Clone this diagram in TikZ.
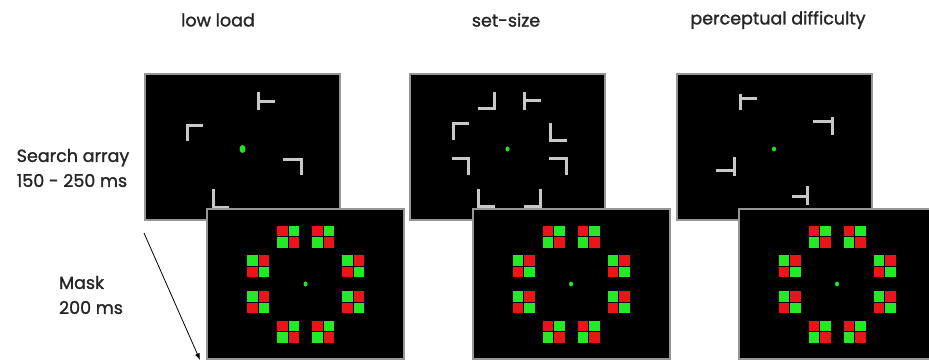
\documentclass[tikz,border=0pt]{standalone}
\usepackage{fontspec}
\setmainfont{Poppins}[UprightFeatures={FakeBold=1.4}]
\usetikzlibrary{arrows.meta,positioning}
\definecolor{framegray}{RGB}{150,150,150}
\definecolor{bargray}{RGB}{200,200,200}
\definecolor{dotgreen}{RGB}{30,230,30}
\definecolor{maskred}{RGB}{235,20,25}
\definecolor{maskgreen}{RGB}{35,235,35}

\begin{document}
\begin{tikzpicture}[
x=1pt, y=-1pt,
searchpanel/.style={draw=framegray, line width=2pt, fill=black, minimum width=195pt, minimum height=146pt, inner sep=0pt},
maskpanel/.style={draw=framegray, line width=2pt, fill=black, minimum width=197pt, minimum height=150pt, inner sep=0pt},
lbar/.style={bargray, line width=3pt},
cond/.style={font=\fontsize{17.5}{22}\selectfont, text=black!85},
phase/.style={font=\fontsize{17.5}{25}\selectfont, text=black!85, align=left},
>=Latex
]
\clip (0,0) rectangle (929,360);

% condition titles
\node[cond] (t1) at (218,20) {low load};
\node[cond] (t2) at (506,20) {set-size};
\node[cond] (t3) at (778,20) {perceptual difficulty};

% search arrays
\node[searchpanel] (s1) at (242.5,147) {};
\node[searchpanel] (s2) at (507.5,147) {};
\node[searchpanel] (s3) at (774,147) {};

\fill[dotgreen] ([yshift=-2pt]s1.center) ellipse [x radius=3pt, y radius=4pt];
\fill[dotgreen] ([yshift=-2pt]s2.center) ellipse [x radius=2pt, y radius=2.5pt];
\fill[dotgreen] ([yshift=-2pt]s3.center) ellipse [x radius=2pt, y radius=2.5pt];

% low load
\draw[lbar] (258,92) -- (258,110) (258,101) -- (275,101);
\draw[lbar] (187,141) -- (187,125) -- (203,125);
\draw[lbar] (283,159) -- (301,159) -- (301,175);
\draw[lbar] (213,189) -- (213,207) -- (229,207);

% set-size
\draw[lbar] (478,108) -- (494,108) -- (494,92);
\draw[lbar] (524,92) -- (524,110) (524,100) -- (541,100);
\draw[lbar] (453,140) -- (453,123) -- (469,123);
\draw[lbar] (550,123) -- (550,140) -- (567,140);
\draw[lbar] (452,158) -- (468,158) -- (468,175);
\draw[lbar] (549,158) -- (566,158) -- (566,175);
\draw[lbar] (478,189) -- (478,206) -- (495,206);
\draw[lbar] (524,206) -- (540,206) -- (540,189);

% perceptual difficulty
\draw[lbar] (740,94) -- (740,110) (740,98) -- (757,98);
\draw[lbar] (832,117) -- (832,135) (813,121) -- (832,121);
\draw[lbar] (734,157) -- (734,176) (716,170) -- (734,170);
\draw[lbar] (807,186) -- (807,205) (792,196) -- (807,196);

% masks
\node[maskpanel] (m1) at (305.5,284) {};
\node[maskpanel] (m2) at (571,284) {};
\node[maskpanel] (m3) at (837,284) {};

\foreach \m in {m1,m2,m3}{
  \fill[dotgreen] (\m.center) ellipse [x radius=2pt, y radius=2.5pt];
  \foreach \dx/\dy/\ca/\cb in {-17.5/-47.5/maskred/maskgreen, 17.5/-47.5/maskred/maskgreen,
      -47.5/-18/maskgreen/maskred, 47.5/-18/maskgreen/maskred,
      -47.5/18/maskgreen/maskred, 47.5/18/maskgreen/maskred,
      -17.5/47.5/maskred/maskgreen, 17.5/47.5/maskred/maskgreen}{
    \begin{scope}[shift={(\m.center)}, shift={(\dx,\dy)}]
      \fill[\ca] (-11,-11) rectangle (-0.5,-0.5);
      \fill[\cb] (0.5,-11) rectangle (11,-0.5);
      \fill[\cb] (-11,0.5) rectangle (-0.5,11);
      \fill[\ca] (0.5,0.5) rectangle (11,11);
    \end{scope}
  }
}

% timing
\node[phase] (search) at (73,168) {Search array\\150 - 250 ms};
\node[phase] (mask) at (91,295) {Mask\\200 ms};
\draw[->, line width=0.8pt] ([yshift=-12pt]s1.south west) -- ([xshift=-6pt]m1.south west);
\end{tikzpicture}
\end{document}
